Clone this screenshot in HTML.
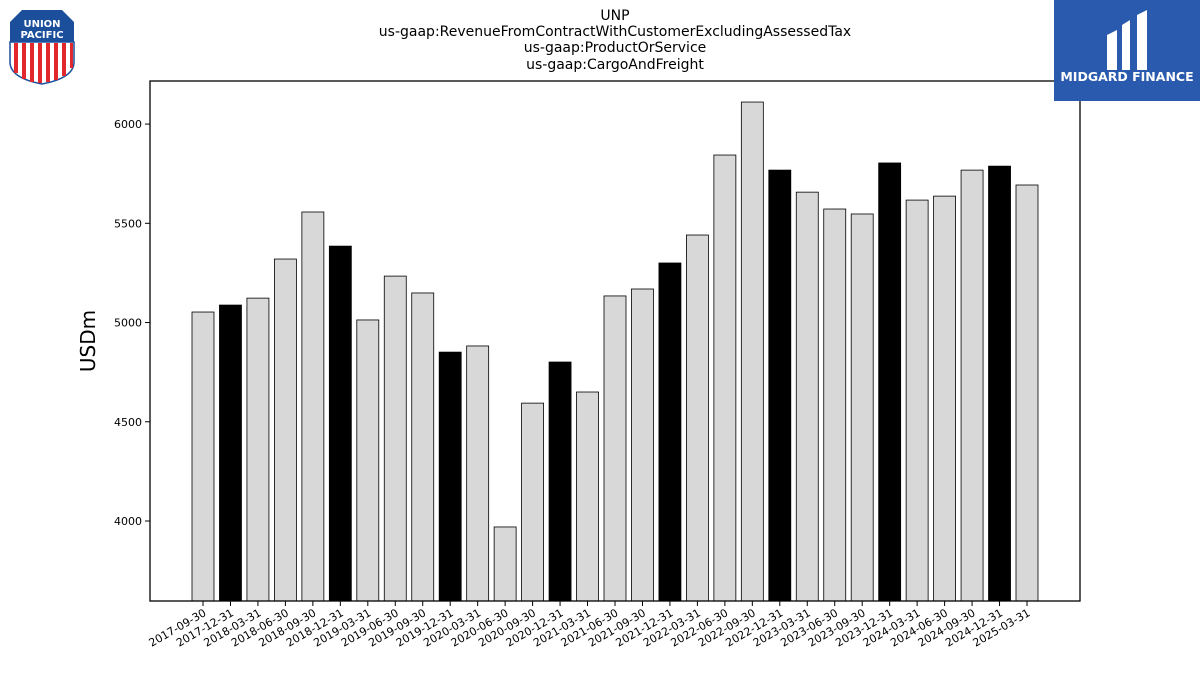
<!DOCTYPE html>
<html><head><meta charset="utf-8"><style>
body{margin:0;background:#fff;font-family:"Liberation Sans","DejaVu Sans",sans-serif}
</style></head><body>
<svg width="1200" height="675" xmlns="http://www.w3.org/2000/svg" id="svg" font-family="DejaVu Sans, Liberation Sans, sans-serif">
<g font-size="14" text-anchor="middle" fill="#000">
<text x="615" y="20">UNP</text>
<text x="615" y="36">us-gaap:RevenueFromContractWithCustomerExcludingAssessedTax</text>
<text x="615" y="52">us-gaap:ProductOrService</text>
<text x="615" y="69">us-gaap:CargoAndFreight</text>
</g>
<g>
<path d="M10,22 L22,10 L62,10 L74,22 L74,42 L10,42 Z" fill="#1b4f9c"/>
<path d="M10,42 L74,42 L74,62 Q74,78 42,84 Q10,78 10,62 Z" fill="#fff" stroke="#1b4f9c" stroke-width="1.5"/>
<g fill="#e2282d"><rect x="14" y="43" width="4" height="30"/><rect x="22" y="43" width="4" height="36"/><rect x="30" y="43" width="4" height="39"/><rect x="38" y="43" width="4" height="40"/><rect x="46" y="43" width="4" height="39"/><rect x="54" y="43" width="4" height="37"/><rect x="62" y="43" width="4" height="33"/><rect x="70" y="43" width="3" height="25"/></g>
<text x="42" y="27" font-size="10" font-weight="bold" fill="#fff" text-anchor="middle">UNION</text>
<text x="42" y="38" font-size="10" font-weight="bold" fill="#fff" text-anchor="middle">PACIFIC</text>
</g>
<g id="plot"></g>
<rect x="150" y="81" width="930" height="520" fill="none" stroke="#000" stroke-width="1.3"/>
<g>
<rect x="1054" y="0" width="146" height="101" fill="#2a5aad"/>
<path d="M1107,35 L1117,30 L1117,70 L1107,70 Z M1122,25 L1130,20 L1130,70 L1122,70 Z M1137,15 L1147,10 L1147,70 L1137,70 Z" fill="#fff"/>
<text x="1127" y="81" font-size="12.5" font-weight="bold" fill="#fff" text-anchor="middle">MIDGARD FINANCE</text>
</g>
<text x="95" y="341" font-size="20" text-anchor="middle" transform="rotate(-90 95 341)">USDm</text>
</svg>
<script>
const categories=["2017-09-30","2017-12-31","2018-03-31","2018-06-30","2018-09-30","2018-12-31","2019-03-31","2019-06-30","2019-09-30","2019-12-31","2020-03-31","2020-06-30","2020-09-30","2020-12-31","2021-03-31","2021-06-30","2021-09-30","2021-12-31","2022-03-31","2022-06-30","2022-09-30","2022-12-31","2023-03-31","2023-06-30","2023-09-30","2023-12-31","2024-03-31","2024-06-30","2024-09-30","2024-12-31","2025-03-31"];
const values=[5053,5088,5123,5320,5557,5385,5013,5234,5149,4851,4882,3970,4594,4801,4650,5134,5169,5300,5441,5844,6111,5768,5657,5572,5547,5804,5617,5637,5768,5788,5693];
const yTicks=[4000,4500,5000,5500,6000];
const yMin=3597,yMax=6217,plotTop=81,plotBot=601;
const yScale=v=>plotBot-(v-yMin)/(yMax-yMin)*(plotBot-plotTop);
const xScale=i=>203+i*(1027-203)/(categories.length-1);
const g=document.getElementById('plot');
const NS="http://www.w3.org/2000/svg";
function mk(t,a){const e=document.createElementNS(NS,t);for(const k in a)e.setAttribute(k,a[k]);g.appendChild(e);return e;}
yTicks.forEach(v=>{
 const l=mk('line',{x1:145,x2:150,y1:yScale(v),y2:yScale(v),stroke:'#000'});
 
 
 const t=mk('text',{x:142,y:yScale(v)+4,'font-size':11,'text-anchor':'end'});
 t.textContent=v;
 
 
});
categories.forEach((c,i)=>{
 const dec=c.endsWith('12-31');
 const xi=xScale(i), yi=yScale(values[i]);
 const r=mk('rect',{x:xi-11,y:yi,width:22,height:plotBot-yi,fill:dec?'#000':'#d8d8d8',stroke:'#000','stroke-width':0.8});
 
 
 const l=mk('line',{x1:xi,x2:xi,y1:plotBot,y2:plotBot+5,stroke:'#000'});
 
 
 const t=mk('text',{x:xi+4,y:plotBot+14,'font-size':11,'text-anchor':'end',transform:`rotate(-30 ${xi+4} ${plotBot+14})`});
 t.textContent=c;
 
 
});
</script>
</body></html>
